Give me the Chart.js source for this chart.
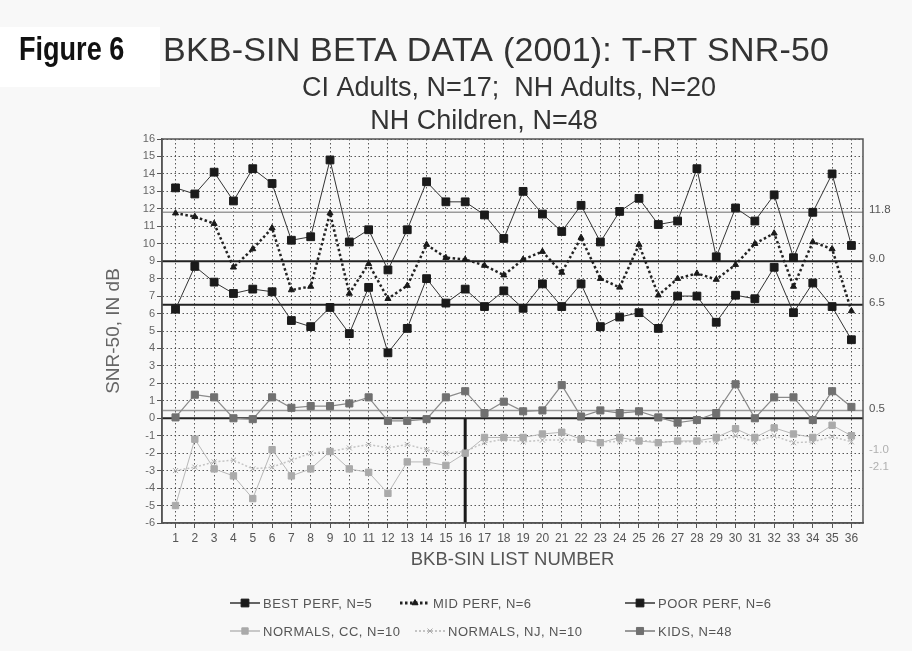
<!DOCTYPE html>
<html>
<head>
<meta charset="utf-8">
<title>BKB-SIN Figure 6</title>
<script src="https://cdn.jsdelivr.net/npm/chart.js@4.4.1/dist/chart.umd.min.js"></script>
<style>
html, body { margin: 0; padding: 0; background: #f8f8f8; }
#caja { position: relative; width: 912px; height: 651px; }
</style>
</head>
<body>
<div id="caja"><canvas id="grafico" width="912" height="651"></canvas></div>
<script>
// numeros de lista BKB-SIN (eje x)
const listas = [1,2,3,4,5,6,7,8,9,10,11,12,13,14,15,16,17,18,19,20,21,22,23,24,25,26,27,28,29,30,31,32,33,34,35,36]

// SNR-50 en dB
const bestPerf = [6.25, 8.7, 7.8, 7.15, 7.4, 7.25, 5.6, 5.25, 6.35, 4.85, 7.5, 3.75, 5.15, 8.0, 6.6, 7.4, 6.4, 7.3, 6.3, 7.7, 6.4, 7.7, 5.25, 5.8, 6.05, 5.15, 7.0, 7.0, 5.5, 7.05, 6.85, 8.65, 6.05, 7.75, 6.4, 4.5]
const midPerf = [11.75, 11.55, 11.15, 8.65, 9.7, 10.9, 7.35, 7.55, 11.75, 7.15, 8.85, 6.85, 7.6, 9.95, 9.2, 9.1, 8.75, 8.2, 9.1, 9.55, 8.35, 10.35, 8.0, 7.5, 9.95, 7.05, 8.0, 8.3, 7.95, 8.8, 10.0, 10.6, 7.55, 10.1, 9.7, 6.15]
const poorPerf = [13.2, 12.85, 14.1, 12.45, 14.3, 13.45, 10.2, 10.4, 14.8, 10.1, 10.8, 8.5, 10.8, 13.55, 12.4, 12.4, 11.65, 10.3, 13.0, 11.7, 10.7, 12.2, 10.1, 11.85, 12.6, 11.1, 11.3, 14.3, 9.25, 12.05, 11.3, 12.8, 9.2, 11.8, 14.0, 9.9]
const normalsCC = [-5.0, -1.2, -2.9, -3.3, -4.6, -1.8, -3.3, -2.9, -1.9, -2.9, -3.1, -4.3, -2.5, -2.5, -2.7, -2.0, -1.1, -1.1, -1.1, -0.9, -0.8, -1.2, -1.4, -1.1, -1.3, -1.4, -1.3, -1.3, -1.1, -0.6, -1.1, -0.55, -0.9, -1.1, -0.4, -1.0]
const normalsNJ = [-3.0, -2.8, -2.5, -2.4, -2.9, -2.8, -2.4, -2.0, -1.9, -1.7, -1.5, -1.7, -1.5, -1.8, -2.0, -1.9, -1.4, -1.2, -1.35, -1.25, -1.25, -1.25, -1.35, -1.35, -1.25, -1.35, -1.35, -1.35, -1.35, -1.0, -1.35, -1.0, -1.4, -1.35, -1.05, -1.35]
const kids = [0.05, 1.35, 1.2, 0.0, -0.05, 1.2, 0.6, 0.7, 0.7, 0.85, 1.2, -0.15, -0.15, -0.05, 1.2, 1.55, 0.3, 0.95, 0.4, 0.45, 1.9, 0.1, 0.45, 0.3, 0.4, 0.05, -0.25, -0.1, 0.3, 1.95, 0.0, 1.2, 1.2, -0.1, 1.55, 0.65]

const nombres = ['BEST PERF, N=5', 'MID PERF, N=6', 'POOR PERF, N=6', 'NORMALS, CC, N=10', 'NORMALS, NJ, N=10', 'KIDS, N=48']

// ticks del eje y
const ticksY = [-6,-5,-4,-3,-2,-1,0,1,2,3,4,5,6,7,8,9,10,11,12,13,14,15,16]

// lineas de referencia (promedios) y sus etiquetas a la derecha
const refValores = [11.8, 9.0, 6.5, 0.45, 0]
const refEtiquetas = ['11.8', '9.0', '6.5', '0.5', '']
const grisValores = [-1.8, -2.8]
const grisEtiquetas = ['-1.0', '-2.1']
const divisionLista = 16

const fuente = "'Liberation Sans', Arial, sans-serif"

function puntos(arr){
    return arr.map((v, i) => ({x: listas[i], y: v}))
}

const textos = {
    id: 'textos',
    beforeDraw(chart){
        const {ctx} = chart
        ctx.save()
        ctx.fillStyle = '#ffffff'
        ctx.fillRect(0, 27, 160, 60)
        ctx.restore()
    },
    beforeDatasetsDraw(chart){
        const {ctx, chartArea: a, scales: {x, y}} = chart
        ctx.save()
        // lineas de referencia
        refValores.forEach((v, i) => {
            const py = y.getPixelForValue(v)
            ctx.beginPath()
            ctx.lineWidth = (i == 0 || i == 3) ? 1.5 : 2
            ctx.strokeStyle = (i == 0 || i == 3) ? '#9a9a9a' : '#222'
            ctx.moveTo(a.left, py)
            ctx.lineTo(a.right, py)
            ctx.stroke()
        })
        // division vertical en la lista 16
        const px = x.getPixelForValue(divisionLista)
        ctx.beginPath()
        ctx.lineWidth = 3
        ctx.strokeStyle = '#1a1a1a'
        ctx.moveTo(px, y.getPixelForValue(0))
        ctx.lineTo(px, a.bottom)
        ctx.stroke()
        // marco
        ctx.lineWidth = 1.5
        ctx.strokeStyle = '#555'
        ctx.strokeRect(a.left, a.top, a.right - a.left, a.bottom - a.top)
        ctx.restore()
    },
    afterDraw(chart){
        const {ctx, chartArea: a, scales: {y}} = chart
        ctx.save()
        ctx.textBaseline = 'middle'
        ctx.textAlign = 'left'
        ctx.font = '11.5px ' + fuente
        ctx.fillStyle = '#555'
        refValores.forEach((v, i) => {
            ctx.fillText(refEtiquetas[i], a.right + 6, y.getPixelForValue(v) - 2)
        })
        ctx.fillStyle = '#b0b0b0'
        grisValores.forEach((v, i) => {
            ctx.fillText(grisEtiquetas[i], a.right + 6, y.getPixelForValue(v))
        })

        // titulos
        ctx.save()
        ctx.translate(19, 51)
        ctx.scale(0.82, 1)
        ctx.fillStyle = '#111'
        ctx.font = "bold 33px 'Liberation Sans Narrow', 'Liberation Sans', Arial, sans-serif"
        ctx.fillText('Figure 6', 0, 0)
        ctx.restore()
        ctx.fillStyle = '#333'
        ctx.font = '34px ' + fuente
        ctx.letterSpacing = '0.2px'
        ctx.fillText('BKB-SIN BETA DATA (2001): T-RT SNR-50', 163, 52)
        ctx.letterSpacing = '0px'
        ctx.textAlign = 'center'
        ctx.font = '27px ' + fuente
        ctx.fillText('CI Adults, N=17;  NH Adults, N=20', 509, 89)
        ctx.fillText('NH Children, N=48', 484, 122)

        // leyenda
        const pos = [[230, 603], [400, 603], [625, 603], [230, 631], [415, 631], [625, 631]]
        ctx.textAlign = 'left'
        ctx.font = '13px ' + fuente
        ctx.letterSpacing = '0.5px'
        chart.data.datasets.forEach((ds, i) => {
            const [lx, ly] = pos[i]
            ctx.save()
            ctx.beginPath()
            ctx.strokeStyle = ds.borderColor
            ctx.lineWidth = ds.borderWidth + 0.5
            ctx.setLineDash(ds.borderDash || [])
            ctx.moveTo(lx, ly)
            ctx.lineTo(lx + 30, ly)
            ctx.stroke()
            ctx.restore()
            ctx.fillStyle = ds.pointBackgroundColor
            ctx.strokeStyle = ds.pointBorderColor
            Chart.helpers.drawPoint(ctx, {pointStyle: ds.pointStyle, radius: ds.pointRadius, borderWidth: ds.pointBorderWidth, rotation: 0}, lx + 15, ly)
            ctx.fillStyle = '#555'
            ctx.fillText(ds.label, lx + 33, ly + 1)
        })
        ctx.restore()
    }
}

function serie(label, datos, color, ancho, dash, estilo, radio, colorPunto){
    return {
        label: label,
        data: puntos(datos),
        borderColor: color,
        borderWidth: ancho,
        borderDash: dash,
        pointStyle: estilo,
        pointRadius: radio,
        pointBackgroundColor: colorPunto,
        pointBorderColor: colorPunto,
        pointBorderWidth: 1,
        tension: 0,
        fill: false
    }
}

const contexto = document.getElementById('grafico').getContext('2d')
const grafico = new Chart(contexto, {
    type: 'line',
    data: {
        datasets: [
            serie(nombres[0], bestPerf, '#333', 1, [], 'rect', 5.5, '#1a1a1a'),
            serie(nombres[1], midPerf, '#222', 2.5, [2.5, 2.5], 'triangle', 3.5, '#1a1a1a'),
            serie(nombres[2], poorPerf, '#333', 1, [], 'rect', 5.5, '#1a1a1a'),
            serie(nombres[3], normalsCC, '#b8b8b8', 1, [], 'rect', 4.5, '#aaaaaa'),
            serie(nombres[4], normalsNJ, '#c4c4c4', 1.5, [2, 2], 'crossRot', 3.5, '#a8a8a8'),
            serie(nombres[5], kids, '#8a8a8a', 1.2, [], 'rect', 5, '#707070')
        ]
    },
    plugins: [textos],
    options: {
        responsive: false,
        animation: false,
        layout: { padding: { left: 100, right: 49, top: 139, bottom: 79 } },
        plugins: {
            legend: { display: false },
            tooltip: { enabled: false }
        },
        scales: {
            x: {
                type: 'linear',
                min: 0.3,
                max: 36.6,
                afterBuildTicks: s => { s.ticks = listas.map(v => ({value: v})) },
                afterFit: s => { s.height = 49 },
                ticks: { autoSkip: false, maxRotation: 0, padding: 3, color: '#555', font: { size: 12, family: fuente } },
                grid: { color: 'rgba(60,60,60,0.85)', lineWidth: 1, tickLength: 5, tickColor: '#555' },
                border: { dash: [1.5, 2.5], color: '#555', width: 1.5 },
                title: { display: true, text: 'BKB-SIN LIST NUMBER', color: '#555', padding: { bottom: 1 }, font: { size: 18.5, family: fuente } }
            },
            y: {
                min: -6,
                max: 16,
                afterBuildTicks: s => { s.ticks = ticksY.map(v => ({value: v})) },
                afterFit: s => { s.width = 62 },
                ticks: { autoSkip: false, padding: 2, color: '#666', font: { size: 11, family: fuente } },
                grid: { color: 'rgba(60,60,60,0.85)', lineWidth: 1, tickLength: 5, tickColor: '#555' },
                border: { dash: [1.5, 2.5], color: '#555', width: 1.5 },
                title: { display: true, text: 'SNR-50, IN dB', color: '#666', padding: { top: 2 }, font: { size: 19, family: fuente } }
            }
        }
    }
})
</script>
</body>
</html>
